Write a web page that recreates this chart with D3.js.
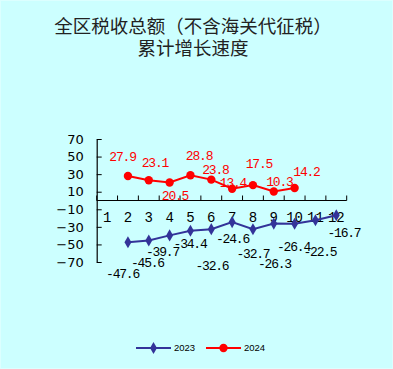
<!DOCTYPE html>
<html>
<head>
<meta charset="utf-8">
<script src="https://cdn.jsdelivr.net/npm/d3@7"></script>
<style>
  html, body { margin: 0; padding: 0; background: #ccffff; }
  svg { display: block; }
</style>
</head>
<body>
<svg class="chart" width="393" height="369"></svg>
<script>
// data
var months = [1, 2, 3, 4, 5, 6, 7, 8, 9, 10, 11, 12];
var tax2023 = [null, -47.6, -45.6, -39.7, -34.4, -32.6, -24.6, -32.7, -26.3, -26.4, -22.5, -16.7];
var tax2024 = [null, 27.9, 23.1, 20.5, 28.8, 23.8, 13.4, 17.5, 10.3, 14.2, null, null];
var yTicks = [-70, -50, -30, -10, 10, 30, 50, 70];
var seriesNames = ["2023", "2024"];
var titleLines = ["全区税收总额（不含海关代征税）", "累计增长速度"];

// hand-placed label nudges (px) like the original chart
var nudge2023 = [null, [-5.4, 30.7], [-1.3, 21.5], [-7.1, 16.5], [-0.4, 13], [0.7, 36], [0.4, 16], [0, 24], [0.7, 39.5], [-1.1, 23], [4.5, 31.5], [7.7, 17]];
var nudge2024 = [null, [-5.4, -20], [6.2, -18], [5.4, 12.5], [8.6, -20], [4.2, -10], [0.9, -6], [6, -22], [5.7, -10.5], [11.9, -17], null, null];

var svg = d3.select(".chart");
var W = +svg.attr("width"), H = +svg.attr("height");

svg.append("rect")
    .attr("x", 0.5).attr("y", 0.5)
    .attr("width", W - 1).attr("height", H - 1)
    .attr("fill", "#ccffff")
    .attr("stroke", "#dcffff");

// title
svg.append("g").selectAll("text")
    .data(titleLines)
    .enter().append("text")
    .attr("x", 193)
    .attr("y", function(d, i) { return 27 + i * 22; })
    .attr("dy", "0.35em")
    .attr("text-anchor", "middle")
    .style("font-family", "'Noto Sans CJK SC', sans-serif")
    .style("font-size", "18.5px")
    .style("fill", "#222")
    .text(function(d) { return d; });

var xScale = d3.scaleBand().domain(months).range([96.7, 346.7]);
var yScale = d3.scaleLinear().domain([-70, 70]).range([262, 139]);
var bw = xScale.bandwidth();
var cx = function(m) { return xScale(m) + bw / 2; };
var y0 = yScale(0);

var monoFont = "'Liberation Mono', monospace";

// y axis
var yAxis = d3.axisLeft(yScale)
    .tickValues(yTicks)
    .tickSizeInner(-5)
    .tickSizeOuter(0)
    .tickPadding(13)
    .tickFormat(function(d) { return d < 0 ? "\u2212" + Math.abs(d) : d; });

var gy = svg.append("g")
    .attr("transform", "translate(96.7,0)")
    .call(yAxis);
gy.select(".domain").attr("stroke", "#000").attr("stroke-width", 1.2);
gy.selectAll(".tick line").attr("stroke", "#000");
gy.selectAll(".tick text")
    .style("font-family", "'DejaVu Sans', sans-serif")
    .style("font-size", "13px")
    .style("fill", "#000");

// x axis at zero, ticks pointing up at band edges
var gx = svg.append("g");
gx.append("line")
    .attr("x1", xScale.range()[0]).attr("x2", xScale.range()[1])
    .attr("y1", y0).attr("y2", y0)
    .attr("stroke", "#000").attr("stroke-width", 1.2);
var edges = months.map(function(m) { return xScale(m); }).concat([xScale.range()[1]]);
gx.selectAll(".xt")
    .data(edges)
    .enter().append("line")
    .attr("x1", function(d) { return d; }).attr("x2", function(d) { return d; })
    .attr("y1", y0 - 5).attr("y2", y0)
    .attr("stroke", "#000");
gx.selectAll(".xl")
    .data(months)
    .enter().append("text")
    .attr("x", cx)
    .attr("y", 217.5)
    .attr("dy", "0.35em")
    .attr("text-anchor", "middle")
    .style("font-family", monoFont)
    .style("font-size", "14px")
    .style("fill", "#000")
    .text(function(d) { return d; });

function seriesData(vals, nudges) {
    var out = [];
    months.forEach(function(m, i) {
        if (vals[i] !== null) out.push({ m: m, v: vals[i], n: nudges[i] });
    });
    return out;
}

var d2023 = seriesData(tax2023, nudge2023);
var d2024 = seriesData(tax2024, nudge2024);

var line = d3.line()
    .x(function(d) { return cx(d.m); })
    .y(function(d) { return yScale(d.v); });

function drawSeries(data, color, shape, labelColor) {
    var g = svg.append("g");
    g.append("path")
        .datum(data)
        .attr("d", line)
        .attr("fill", "none")
        .attr("stroke", color)
        .attr("stroke-width", 2);
    g.selectAll("path.pt")
        .data(data)
        .enter().append("path")
        .attr("class", "pt")
        .attr("transform", function(d) { return "translate(" + cx(d.m) + "," + yScale(d.v) + ")"; })
        .attr("d", shape)
        .attr("fill", color);
    g.selectAll("text")
        .data(data)
        .enter().append("text")
        .attr("x", function(d) { return cx(d.m) + d.n[0]; })
        .attr("y", function(d) { return yScale(d.v) + d.n[1]; })
        .attr("dy", "0.35em")
        .attr("text-anchor", "middle")
        .style("font-family", monoFont)
        .style("font-size", "13px")
        .style("letter-spacing", "-1.2px")
        .style("fill", labelColor)
        .text(function(d) { return d.v.toFixed(1); });
}

var diamond = d3.symbol().type(d3.symbolDiamond).size(42)();
var circle = d3.symbol().type(d3.symbolCircle).size(55)();

drawSeries(d2023, "#333399", diamond, "#000");
drawSeries(d2024, "#ff0000", circle, "#ff0000");

// legend
var legend = svg.append("g").selectAll("g")
    .data(seriesNames)
    .enter().append("g")
    .attr("transform", function(d, i) { return "translate(" + (136 + i * 70) + ",348)"; });
legend.append("line")
    .attr("x1", 0).attr("x2", 35)
    .attr("stroke", function(d, i) { return i === 0 ? "#333399" : "#ff0000"; })
    .attr("stroke-width", 2);
legend.append("path")
    .attr("transform", "translate(17.5,0)")
    .attr("d", function(d, i) { return i === 0 ? diamond : circle; })
    .attr("fill", function(d, i) { return i === 0 ? "#333399" : "#ff0000"; });
legend.append("text")
    .attr("x", 38)
    .attr("dy", "0.35em")
    .style("font-family", "'Liberation Sans', sans-serif")
    .style("font-size", "9.5px")
    .style("fill", "#000")
    .text(function(d) { return d; });
</script>
</body>
</html>
